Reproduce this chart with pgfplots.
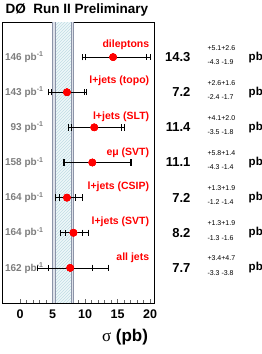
\documentclass[border=0pt]{standalone}
\usepackage{pgfplots}
\pgfplotsset{compat=1.18}
\usepackage{fontspec}
\setmainfont{Liberation Sans}
\newfontfamily\seriffont{Liberation Serif}
\usetikzlibrary{patterns}
\definecolor{bandedge}{RGB}{140,148,168}
\definecolor{bandgray}{RGB}{222,226,234}
\definecolor{bandfill}{RGB}{238,248,249}
\definecolor{hatch}{RGB}{192,220,228}
\definecolor{lumigray}{RGB}{125,125,125}
\definecolor{pointred}{RGB}{255,0,0}
\begin{document}
\begin{tikzpicture}
\path[use as bounding box] (0pt,0pt) rectangle (262pt,354pt);
\begin{axis}[at={(2pt,51pt)}, anchor=south west, scale only axis,
  width=152pt, height=281pt,
  xmin=-2.8, xmax=20.6, ymin=0, ymax=8, clip=false,
  xtick={0,5,10,15,20}, minor x tick num=4, xtick pos=bottom, ytick=\empty,
  tick align=inside, major tick length=4pt, minor tick length=2.5pt,
  axis line style={line width=0.9pt}, tick style={line width=0.5pt, black!60},
  /pgf/number format/assume math mode=true,
  xticklabel style={font=\bfseries\fontsize{12.5}{13}\selectfont, yshift=-3pt},
]
% theory band
\addplot[draw=none, fill=bandgray] coordinates {(5.0,0) (5.0,8) (8.2,8) (8.2,0)};
\addplot[draw=none, fill=bandfill, postaction={pattern=north east lines, pattern color=hatch}]
  coordinates {(5.4,0) (5.4,8) (7.8,8) (7.8,0)};
\addplot[bandedge, line width=0.6pt] coordinates {(5.0,0) (5.0,8)};
\addplot[bandedge, line width=0.6pt] coordinates {(5.4,0) (5.4,8)};
\addplot[bandedge, line width=0.6pt] coordinates {(7.8,0) (7.8,8)};
\addplot[bandedge, line width=0.6pt] coordinates {(8.2,0) (8.2,8)};

% total errors
\addplot[only marks, mark=*, mark size=3.6pt, mark options={fill=pointred, draw=pointred},
  error bars/.cd, x dir=both, x explicit, error mark=|,
  error bar style={black, line width=0.65pt},
  error mark options={black, mark size=3.2pt, line width=0.65pt}]
  coordinates {
  (14.3,7) += (5.72,0) -= (4.70,0)
  (7.2,6) += (3.05,0) -= (2.94,0)
  (11.4,5) += (4.56,0) -= (3.94,0)
  (11.1,4) += (5.97,0) -= (4.52,0)
  (7.2,3) += (2.30,0) -= (1.84,0)
  (8.2,2) += (2.30,0) -= (2.06,0)
  (7.7,1) += (5.80,0) -= (5.03,0)
  };
% statistical errors
\addplot[only marks, mark=*, mark size=3.6pt, mark options={fill=pointred, draw=pointred},
  error bars/.cd, x dir=both, x explicit, error mark=|,
  error bar style={black, line width=0.65pt},
  error mark options={black, mark size=3.2pt, line width=0.65pt}]
  coordinates {
  (14.3,7) += (5.1,0) -= (4.3,0)
  (7.2,6) += (2.6,0) -= (2.4,0)
  (11.4,5) += (4.1,0) -= (3.5,0)
  (11.1,4) += (5.8,0) -= (4.3,0)
  (7.2,3) += (1.3,0) -= (1.2,0)
  (8.2,2) += (1.3,0) -= (1.3,0)
  (7.7,1) += (3.4,0) -= (3.3,0)
  };
% points on top
\addplot[only marks, mark=*, mark size=3.6pt, mark options={fill=pointred, draw=pointred}]
  coordinates {(14.3,7) (7.2,6) (11.4,5) (11.1,4) (7.2,3) (8.2,2) (7.7,1)};

% channel labels
\tikzset{chan/.style={anchor=east, text=pointred, font=\bfseries\fontsize{10.5}{11}\selectfont}}
\node[chan] at (axis cs:20.4,7.35) {dileptons};
\node[chan] at (axis cs:20.4,6.32) {l+jets (topo)};
\node[chan] at (axis cs:20.4,5.3) {l+jets (SLT)};
\node[chan] at (axis cs:20.4,4.28) {eμ (SVT)};
\node[chan] at (axis cs:20.4,3.3) {l+jets (CSIP)};
\node[chan] at (axis cs:20.4,2.3) {l+jets (SVT)};
\node[chan] at (axis cs:20.4,1.3) {all jets};

% luminosities
\tikzset{lumi/.style={anchor=east, text=lumigray, font=\bfseries\fontsize{10}{10}\selectfont}}
\node[lumi] at (axis cs:4.13,7) {146 pb\textsuperscript{-1}};
\node[lumi] at (axis cs:4.13,6) {143 pb\textsuperscript{-1}};
\node[lumi] at (axis cs:4.13,5) {93 pb\textsuperscript{-1}};
\node[lumi] at (axis cs:4.13,4) {158 pb\textsuperscript{-1}};
\node[lumi] at (axis cs:4.13,3) {164 pb\textsuperscript{-1}};
\node[lumi] at (axis cs:4.13,2) {164 pb\textsuperscript{-1}};
\node[lumi] at (axis cs:4.13,1) {162 pb\textsuperscript{-1}};

% results column
\tikzset{val/.style={anchor=east, font=\bfseries\fontsize{13}{13}\selectfont},
  errup/.style={anchor=west, font=\fontsize{7}{7}\selectfont},
  unit/.style={anchor=west, inner sep=1pt, font=\bfseries\fontsize{11.5}{12}\selectfont}}
\node[val] at (axis cs:26.76,7) {14.3};
\node[errup] at (axis cs:28.3,7.27) {+5.1+2.6};
\node[errup] at (axis cs:28.3,6.86) {-4.3 -1.9};
\node[unit] at (axis cs:35.0,7) {pb};

\node[val] at (axis cs:26.76,6) {7.2};
\node[errup] at (axis cs:28.3,6.27) {+2.6+1.6};
\node[errup] at (axis cs:28.3,5.86) {-2.4 -1.7};
\node[unit] at (axis cs:35.0,6) {pb};

\node[val] at (axis cs:26.76,5) {11.4};
\node[errup] at (axis cs:28.3,5.27) {+4.1+2.0};
\node[errup] at (axis cs:28.3,4.86) {-3.5 -1.8};
\node[unit] at (axis cs:35.0,5) {pb};

\node[val] at (axis cs:26.76,4) {11.1};
\node[errup] at (axis cs:28.3,4.27) {+5.8+1.4};
\node[errup] at (axis cs:28.3,3.86) {-4.3 -1.4};
\node[unit] at (axis cs:35.0,4) {pb};

\node[val] at (axis cs:26.76,3) {7.2};
\node[errup] at (axis cs:28.3,3.27) {+1.3+1.9};
\node[errup] at (axis cs:28.3,2.86) {-1.2 -1.4};
\node[unit] at (axis cs:35.0,3) {pb};

\node[val] at (axis cs:26.76,2) {8.2};
\node[errup] at (axis cs:28.3,2.27) {+1.3+1.9};
\node[errup] at (axis cs:28.3,1.86) {-1.3 -1.6};
\node[unit] at (axis cs:35.0,2) {pb};

\node[val] at (axis cs:26.76,1) {7.7};
\node[errup] at (axis cs:28.3,1.27) {+3.4+4.7};
\node[errup] at (axis cs:28.3,0.86) {-3.3 -3.8};
\node[unit] at (axis cs:35.0,1) {pb};
\end{axis}
\node[anchor=west, font=\bfseries\fontsize{13.5}{14}\selectfont] at (2pt,344pt) {DØ\ \ Run II Preliminary};
\node[font=\bfseries\fontsize{17}{17}\selectfont] at (125pt,17pt) {{\seriffont\mdseries σ} (pb)};
\end{tikzpicture}
\end{document}
